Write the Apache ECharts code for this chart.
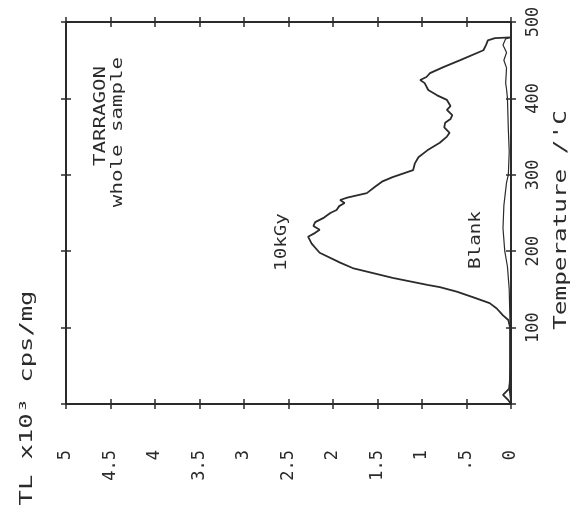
<!DOCTYPE html>
<html>
<head>
<meta charset="utf-8">
<script src="https://cdn.jsdelivr.net/npm/echarts@6/dist/echarts.min.js"></script>
<style>
	html, body { margin: 0; padding: 0; background: #fff; }
	#chart { width: 576px; height: 517px; }
</style>
</head>
<body>
<div id="chart"></div>
<script>
const temp10kGy = [ 0, 5, 12, 20, 30, 60, 100, 110, 116, 125, 132, 140, 147, 153, 156, 165, 178, 185, 198, 210,
	219, 224, 228, 233, 238, 244, 250, 254, 259, 263, 267, 270, 276, 285, 291, 297, 306, 315, 323, 332,
	342, 350, 355, 362, 368, 373, 378, 385, 390, 398, 404, 411, 420, 424, 428, 433, 441, 450, 463, 470,
	476, 479, 480 ];
const tl10kGy = [ 0, 0.03, 0.09, 0.02, 0.01, 0.01, 0.01, 0.03, 0.09, 0.16, 0.24, 0.43, 0.61, 0.80, 0.94, 1.33, 1.78, 1.92, 2.15, 2.24,
	2.28, 2.20, 2.15, 2.22, 2.20, 2.10, 2.03, 1.96, 1.93, 1.87, 1.92, 1.84, 1.62, 1.52, 1.45, 1.33, 1.10, 1.08, 1.04, 0.94,
	0.80, 0.72, 0.69, 0.75, 0.74, 0.68, 0.66, 0.72, 0.68, 0.72, 0.83, 0.93, 0.97, 1.02, 0.95, 0.91, 0.76, 0.57, 0.31, 0.28,
	0.26, 0.18, 0 ];

const tempBlank = [ 0, 20, 50, 100, 150, 180, 200, 230, 260, 290, 300, 330, 360, 400, 412, 420, 440, 450, 460, 470, 478, 480 ];
const tlBlank = [ 0, 0.02, 0.01, 0.01, 0.02, 0.04, 0.07, 0.09, 0.08, 0.05, 0.03, 0.02, 0.03, 0.04, 0.05, 0.06, 0.05, 0.08, 0.05, 0.09, 0.06, 0 ];

// tick values
const tlTicks = { min: 0, max: 5, interval: 0.5 };
const tempTicks = { min: 0, max: 500, interval: 100 };

const ink = '#2b2b2b';
const mono = '"DejaVu Sans Mono", "Liberation Mono", monospace';

const toPairs = ( temps, tls ) => temps.map( ( t, i ) => [ tls[ i ], t ] );

const tlLabel = ( v ) => {
	if ( v === 0.5 ) {
		return '.5';
	}
	return String( v );
};

/**
 * One axis layer: frame line, ticks on one side, optional labels.
 */
const makeAxis = ( base, position, opts ) => Object.assign( {
	type: 'value',
	position,
	splitLine: { show: false },
	axisLine: { show: opts.line, onZero: false, lineStyle: { color: ink, width: 2 } },
	axisTick: { show: true, inside: opts.inside, length: 5, lineStyle: { color: ink, width: 1.5 } },
	axisLabel: { show: false }
}, base );

const xBase = Object.assign( { inverse: true }, tlTicks );
const yBase = Object.assign( {}, tempTicks );

const xAxes = [
	makeAxis( xBase, 'bottom', { line: true, inside: false } ),
	makeAxis( xBase, 'bottom', { line: false, inside: true } ),
	makeAxis( xBase, 'top', { line: true, inside: false } ),
	makeAxis( xBase, 'top', { line: false, inside: true } )
];
xAxes[ 0 ].axisLabel = {
	show: true,
	rotate: 90,
	margin: 46,
	color: ink,
	fontFamily: mono,
	fontSize: 17,
	formatter: tlLabel
};

const yAxes = [
	makeAxis( yBase, 'right', { line: true, inside: false } ),
	makeAxis( yBase, 'right', { line: false, inside: true } ),
	makeAxis( yBase, 'left', { line: true, inside: false } ),
	makeAxis( yBase, 'left', { line: false, inside: true } )
];
yAxes[ 0 ].axisLabel = {
	show: true,
	rotate: 90,
	margin: 14,
	color: ink,
	fontFamily: mono,
	fontSize: 17,
	formatter: ( v ) => ( v === 0 ? '' : String( v ) )
};

// plotter lettering is wide, so stretch it along the reading direction
const note = ( text, x, y, size, stretch ) => ( {
	type: 'text',
	x,
	y,
	rotation: Math.PI / 2,
	scaleX: stretch,
	style: {
		text,
		fill: ink,
		font: size + 'px ' + mono,
		align: 'center',
		verticalAlign: 'middle'
	}
} );

const chart = echarts.init( document.getElementById( 'chart' ), null, { renderer: 'canvas' } );

chart.setOption( {
	backgroundColor: '#ffffff',
	animation: false,
	grid: { left: 66, right: 65, top: 22, bottom: 113 },
	xAxis: xAxes,
	yAxis: yAxes,
	graphic: [
		note( 'TL x10³ cps/mg', 28, 398, 17, 1.5 ),
		note( 'Temperature /\'C', 562, 220, 17, 1.43 ),
		note( 'TARRAGON', 101, 116, 16, 1.3 ),
		note( 'whole sample', 118, 132, 16, 1.3 ),
		note( '10kGy', 282, 242, 16, 1.2 ),
		note( 'Blank', 476, 240, 16, 1.2 )
	],
	series: [
		{
			name: '10kGy',
			type: 'line',
			xAxisIndex: 0,
			yAxisIndex: 0,
			data: toPairs( temp10kGy, tl10kGy ),
			showSymbol: false,
			lineStyle: { color: ink, width: 1.8 }
		},
		{
			name: 'Blank',
			type: 'line',
			xAxisIndex: 0,
			yAxisIndex: 0,
			data: toPairs( tempBlank, tlBlank ),
			showSymbol: false,
			lineStyle: { color: ink, width: 1.2 }
		}
	]
} );
</script>
</body>
</html>
